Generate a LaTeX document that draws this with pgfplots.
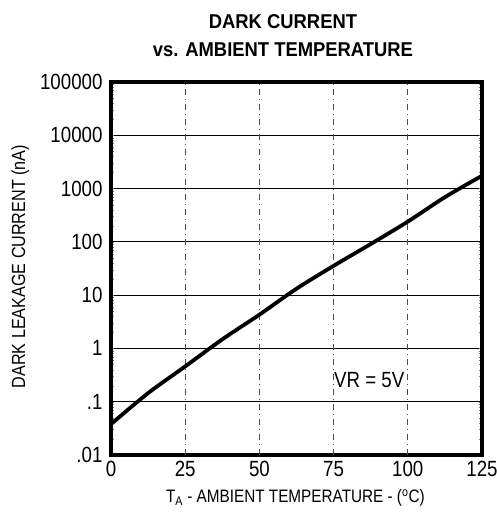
\documentclass[border=0pt]{standalone}
\usepackage{fontspec}
\setmainfont{Liberation Sans}[FakeStretch=0.85]
\newfontfamily\titlefont{Liberation Sans}[FakeStretch=0.92]
\usepackage{pgfplots}
\pgfplotsset{compat=1.18}
\begin{document}
\begin{tikzpicture}
\useasboundingbox (-111pt,-59pt) rectangle (386pt,455pt);
\begin{axis}[
  scale only axis,
  width=371pt, height=373pt,
  ymode=log,
  xmin=0, xmax=125, ymin=0.01, ymax=100000,
  xtick={0,25,50,75,100,125},
  xticklabels={0,25,50,75,100,125},
  ytick={0.01,0.1,1,10,100,1000,10000,100000},
  yticklabels={.01,.1,1,10,100,1000,10000,100000},
  minor ytick={},
  major tick length=0pt,
  tick label style={font=\fontsize{22}{24}\selectfont},
  xticklabel style={yshift=-3pt},
  yticklabel style={xshift=-5pt},
  axis line style={line width=3.5pt},
  ymajorgrids,
  major grid style={line width=1.2pt, black},
  clip=false,
]
\addplot[forget plot, draw=black!70, line width=0.9pt, dash pattern=on 6pt off 4pt on 1pt off 4pt]
  coordinates {(25,0.01) (25,100000)};
\addplot[forget plot, draw=black!70, line width=0.9pt, dash pattern=on 6pt off 4pt on 1pt off 4pt]
  coordinates {(50,0.01) (50,100000)};
\addplot[forget plot, draw=black!70, line width=0.9pt, dash pattern=on 6pt off 4pt on 1pt off 4pt]
  coordinates {(75,0.01) (75,100000)};
\addplot[forget plot, draw=black!70, line width=0.9pt, dash pattern=on 6pt off 4pt on 1pt off 4pt]
  coordinates {(100,0.01) (100,100000)};
\addplot[black, line width=3.8pt, smooth, line cap=butt] coordinates {
  (0,0.038) (12.5,0.145) (25,0.46) (37.5,1.48) (50,4.3) (62.5,13.2)
  (75,35.5) (87.5,91) (100,240) (112.5,690) (125,1740)
};
\node[font=\fontsize{22}{24}\selectfont] at (axis cs:87,0.26) {VR = 5V};
\node[font=\titlefont\bfseries\fontsize{20}{22}\selectfont, align=center] at (rel axis cs:0.4636,1.1233)
  {DARK CURRENT\\[6pt]vs. AMBIENT TEMPERATURE};
\node[font=\fontsize{18}{20}\selectfont] at (rel axis cs:0.497,-0.115)
  {T\textsubscript{A} - AMBIENT TEMPERATURE - (\textsuperscript{o}C)};
\node[font=\fontsize{19}{20}\selectfont, rotate=90] at (rel axis cs:-0.245,0.505)
  {DARK LEAKAGE CURRENT (nA)};
\end{axis}
\end{tikzpicture}
\end{document}
